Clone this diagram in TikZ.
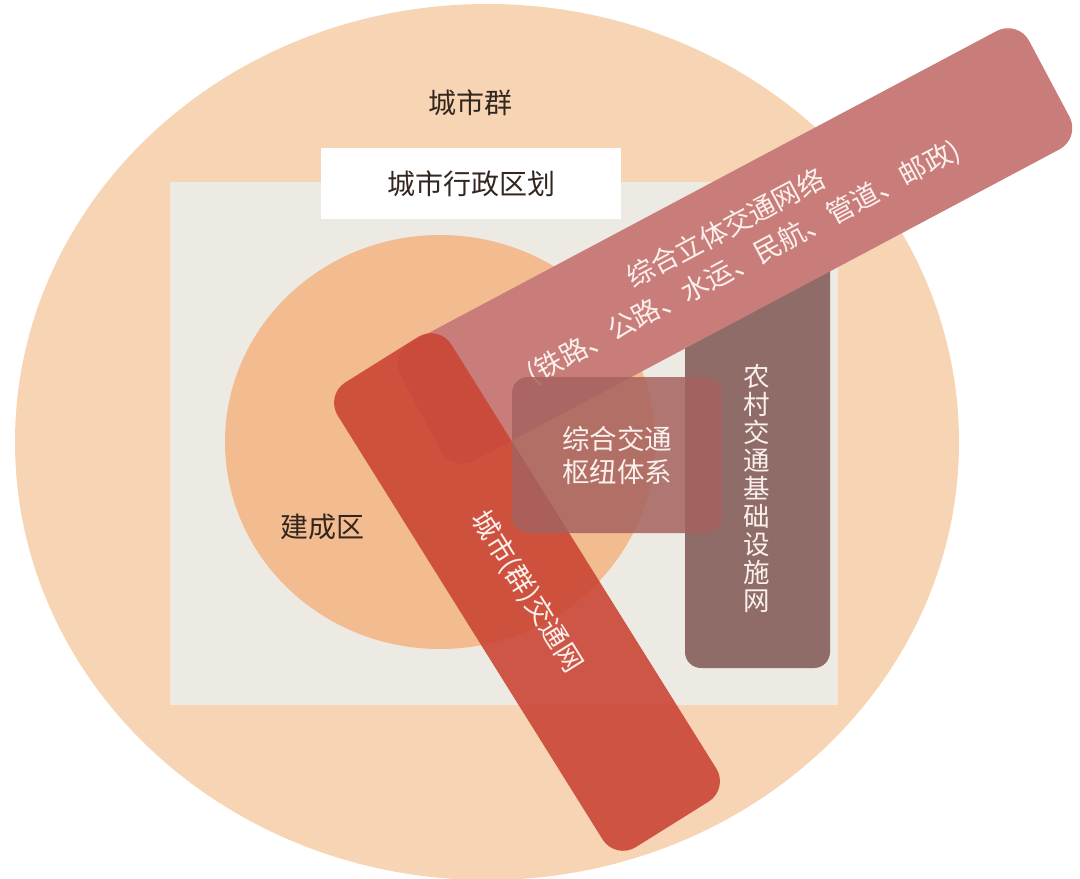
\documentclass[tikz,border=0pt]{standalone}
\usepackage{fontspec}
\newfontfamily\cjk{Noto Sans CJK SC}
\usetikzlibrary{shapes.geometric}

\definecolor{peach}{HTML}{F7D4B3}
\definecolor{beige}{HTML}{EDEAE3}
\definecolor{core}{HTML}{F2BB90}
\definecolor{pinkband}{HTML}{C97D7A}
\definecolor{redband}{HTML}{CB4636}
\definecolor{rural}{HTML}{8F6C68}
\definecolor{hub}{HTML}{A6625F}
\definecolor{textdark}{HTML}{33261F}
\definecolor{textlight}{HTML}{FBF0EC}

\begin{document}
\begin{tikzpicture}[x=1pt, y=-1pt,
  darklabel/.style={text=textdark, font=\cjk\fontsize{28}{32}\selectfont},
  lightlabel/.style={text=textlight, align=center, font=\cjk\fontsize{27.5}{38}\selectfont},
  band/.style={rounded corners=24pt, inner sep=0pt, minimum height=134pt, lightlabel}]

  \useasboundingbox (0,0) rectangle (1080,879);

  % city cluster
  \fill[peach] (487,442) ellipse [x radius=472, y radius=438];
  \node[darklabel] (cluster) at (470,103) {城市群};

  % administrative area
  \node[fill=beige, minimum width=668pt, minimum height=523pt, inner sep=0pt] (admin) at (504,443.5) {};
  \node[darklabel, fill=white, minimum width=300pt, minimum height=71pt] (admintitle) at (471,183.5) {城市行政区划};

  % built-up area
  \fill[core] (440,442) ellipse [x radius=215, y radius=207];
  \node[darklabel] (built) at (322,527) {建成区};

  % rural network
  \node[fill=rural, rounded corners=16pt, minimum width=145pt, minimum height=428pt, inner sep=0pt] (rural) at (757.5,454) {};
  \node[lightlabel, font=\cjk\fontsize{26.5}{28}\selectfont] (ruraltext) at (757,488)
    {农\\村\\交\\通\\基\\础\\设\\施\\网};

  % national network band
  \node[band, fill=pinkband, minimum width=712pt, rotate=28] (multimodal) at (735,246)
    {综合立体交通网络\\(铁路、公路、水运、民航、管道、邮政)};

  % urban network band
  \node[band, fill=redband, fill opacity=0.9, text opacity=1, minimum width=548pt, rotate=-58] (urban) at (527,592)
    {城市(群)交通网};

  % hub
  \node[fill=hub, fill opacity=0.85, text opacity=1, rounded corners=16pt, minimum width=210pt, minimum height=156pt,
        lightlabel, font=\cjk\fontsize{27.5}{33}\selectfont] (hubs) at (617,455) {综合交通\\枢纽体系};

\end{tikzpicture}
\end{document}
